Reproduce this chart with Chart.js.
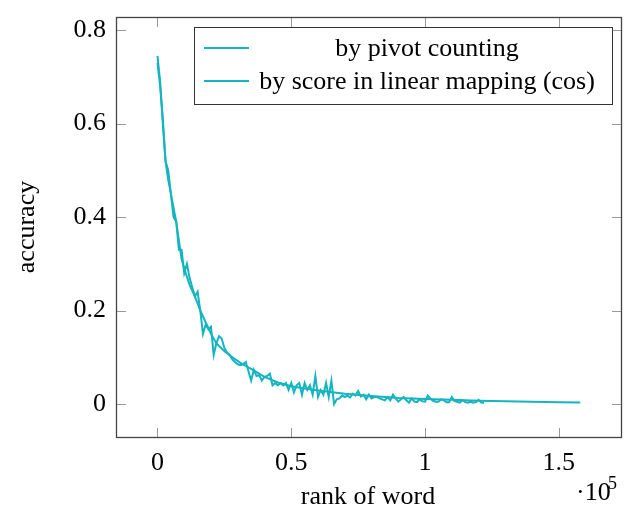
<!DOCTYPE html>
<html>
<head>
<meta charset="utf-8">
<script src="https://cdn.jsdelivr.net/npm/chart.js@4.4.1/dist/chart.umd.min.js"></script>
<style>
    html, body { margin: 0; padding: 0; background: #fff; }
</style>
</head>
<body>
<canvas id="accChart" width="624" height="509"></canvas>
<script>
// rank of word, in thousands
const pivotRankK = [
    0, 1, 2, 3, 4, 5, 6, 7, 8, 9, 10, 11, 12, 13, 14, 15, 16, 17, 18, 19,
    20, 21, 22, 23, 24, 25, 26, 27, 28, 29, 30, 31, 32, 33, 34, 35, 36, 37, 38, 39,
    40, 41, 42, 43, 44, 45, 46, 47, 48, 49, 50, 51, 52, 53, 54, 55, 56, 57, 58, 59,
    60, 61, 62, 63, 64, 65, 66, 67, 68, 69, 70, 71, 72, 73, 74, 75, 76, 77, 78, 79,
    80, 81, 82, 83, 84, 85, 86, 87, 88, 89, 90, 91, 92, 93, 94, 95, 96, 97, 98, 99,
    100, 101, 102, 103, 104, 105, 106, 107, 108, 109, 110, 111, 112, 113, 114, 115, 116, 117, 118, 119,
    120, 121, 122
];
const pivotAcc = [
    0.73, 0.68, 0.61, 0.52, 0.50, 0.45, 0.40, 0.39, 0.33, 0.33,
    0.28, 0.30, 0.27, 0.25, 0.23, 0.24, 0.20, 0.15, 0.17, 0.16,
    0.165, 0.105, 0.13, 0.145, 0.14, 0.12, 0.11, 0.105, 0.095, 0.09,
    0.085, 0.083, 0.085, 0.09, 0.07, 0.05, 0.073, 0.06, 0.062, 0.05,
    0.058, 0.06, 0.065, 0.04, 0.045, 0.04, 0.045, 0.04, 0.045, 0.03,
    0.045, 0.025, 0.04, 0.045, 0.02, 0.045, 0.03, 0.04, 0.02, 0.06,
    0.015, 0.03, 0.02, 0.045, 0.015, 0.05, 0.0, 0.01, 0.012, 0.018,
    0.015, 0.018, 0.014, 0.022, 0.018, 0.028, 0.016, 0.02, 0.01, 0.02,
    0.012, 0.015, 0.015, 0.012, 0.01, 0.008, 0.015, 0.008, 0.02, 0.012,
    0.005, 0.01, 0.015, 0.008, 0.003, 0.012, 0.005, 0.004, 0.01, 0.006,
    0.005, 0.018, 0.012, 0.007, 0.005, 0.005, 0.01, 0.008, 0.004, 0.004,
    0.015, 0.006, 0.005, 0.003, 0.008, 0.004, 0.003, 0.005, 0.003, 0.004,
    0.009, 0.003, 0.002
];
const scoreRankK = [
    0, 1, 2, 3, 4, 5, 6, 7, 8, 9, 10, 12, 14, 16, 18, 20, 22, 25, 28, 31,
    35, 40, 45, 50, 55, 60, 70, 80, 90, 100, 110, 120, 130, 140, 150, 158
];
const scoreAcc = [
    0.745, 0.69, 0.60, 0.52, 0.48, 0.45, 0.42, 0.39, 0.35, 0.31,
    0.29, 0.255, 0.23, 0.20, 0.175, 0.15, 0.13, 0.113, 0.10, 0.088,
    0.075, 0.058, 0.046, 0.038, 0.033, 0.029, 0.022, 0.017, 0.013, 0.011,
    0.009, 0.007, 0.006, 0.005, 0.004, 0.003
];
const seriesNames = ['by pivot counting', 'by score in linear mapping (cos)'];
const xTicks = [0, 50000, 100000, 150000];
const yTicks = [0, 0.2, 0.4, 0.6, 0.8];

const lineColor = 'rgb(20, 180, 192)';
const serif = "'Liberation Serif', 'DejaVu Serif', serif";

Chart.defaults.font.family = serif;

const toPoints = (ranksK, acc) => ranksK.map((r, i) => ({x: r * 1000, y: acc[i]}));

// frame, inward ticks, axis titles and legend, pgfplots style
const decorations = {
    id: 'decorations',
    afterDraw(chart) {
        const {ctx, chartArea: a, scales} = chart;
        ctx.save();

        ctx.strokeStyle = '#999';
        ctx.lineWidth = 1;
        const tl = 10;
        xTicks.forEach(v => {
            const px = Math.round(scales.x.getPixelForValue(v)) + 0.5;
            ctx.beginPath();
            ctx.moveTo(px, a.bottom); ctx.lineTo(px, a.bottom - tl);
            ctx.moveTo(px, a.top); ctx.lineTo(px, a.top + tl);
            ctx.stroke();
        });
        yTicks.forEach(v => {
            const py = Math.round(scales.y.getPixelForValue(v)) + 0.5;
            ctx.beginPath();
            ctx.moveTo(a.left, py); ctx.lineTo(a.left + tl, py);
            ctx.moveTo(a.right, py); ctx.lineTo(a.right - tl, py);
            ctx.stroke();
        });

        ctx.strokeStyle = '#444';
        ctx.lineWidth = 1.3;
        ctx.strokeRect(a.left + 0.5, a.top + 0.5, a.right - a.left - 1, a.bottom - a.top - 1);

        ctx.fillStyle = '#000';
        ctx.font = `26px ${serif}`;
        ctx.textAlign = 'center';
        ctx.textBaseline = 'alphabetic';
        ctx.fillText('rank of word', 368, 504);

        ctx.textAlign = 'left';
        ctx.fillText('\u00b710', 576, 500);
        ctx.font = `18px ${serif}`;
        ctx.fillText('5', 608, 489);

        ctx.font = `26px ${serif}`;
        ctx.save();
        ctx.translate(34, 227);
        ctx.rotate(-Math.PI / 2);
        ctx.textAlign = 'center';
        ctx.fillText('accuracy', 0, 0);
        ctx.restore();

        // legend box
        const lx = 194, ly = 27, lw = 418, lh = 77;
        ctx.fillStyle = '#fff';
        ctx.fillRect(lx, ly, lw, lh);
        ctx.strokeStyle = '#333';
        ctx.lineWidth = 1;
        ctx.strokeRect(lx + 0.5, ly + 0.5, lw, lh);
        const rows = [48, 81];
        ctx.fillStyle = '#000';
        ctx.textAlign = 'center';
        seriesNames.forEach((name, i) => {
            ctx.strokeStyle = lineColor;
            ctx.lineWidth = 2;
            ctx.beginPath();
            ctx.moveTo(204, rows[i]);
            ctx.lineTo(249, rows[i]);
            ctx.stroke();
            ctx.fillText(name, 427, rows[i] + 8);
        });

        ctx.restore();
    }
};

const chart = new Chart(document.getElementById('accChart'), {
    type: 'line',
    data: {
        datasets: [{
            label: seriesNames[0],
            data: toPoints(pivotRankK, pivotAcc),
            borderColor: lineColor,
            borderWidth: 2,
            pointRadius: 0,
            tension: 0,
            fill: false
        }, {
            label: seriesNames[1],
            data: toPoints(scoreRankK, scoreAcc),
            borderColor: lineColor,
            borderWidth: 2,
            pointRadius: 0,
            tension: 0,
            fill: false
        }]
    },
    options: {
        responsive: false,
        animation: false,
        devicePixelRatio: 1,
        layout: {padding: {top: 17, right: 2, left: 0, bottom: 0}},
        plugins: {legend: {display: false}, tooltip: {enabled: false}},
        scales: {
            x: {
                type: 'linear',
                min: -15500, max: 173600,
                afterFit: s => { s.height = 71; s.paddingLeft = 0; s.paddingRight = 0; },
                afterBuildTicks: s => { s.ticks = xTicks.map(v => ({value: v})); },
                grid: {display: false, drawTicks: false},
                border: {display: false},
                ticks: {
                    color: '#000',
                    font: {size: 26},
                    padding: 10,
                    maxRotation: 0,
                    callback: v => String(v / 1e5)
                }
            },
            y: {
                min: -0.0727, max: 0.828,
                afterFit: s => { s.width = 116; s.paddingTop = 0; s.paddingBottom = 0; },
                afterBuildTicks: s => { s.ticks = yTicks.map(v => ({value: v})); },
                grid: {display: false, drawTicks: false},
                border: {display: false},
                ticks: {
                    color: '#000',
                    font: {size: 26},
                    padding: 10,
                    callback: v => String(v)
                }
            }
        }
    },
    plugins: [decorations]
});
</script>
</body>
</html>
